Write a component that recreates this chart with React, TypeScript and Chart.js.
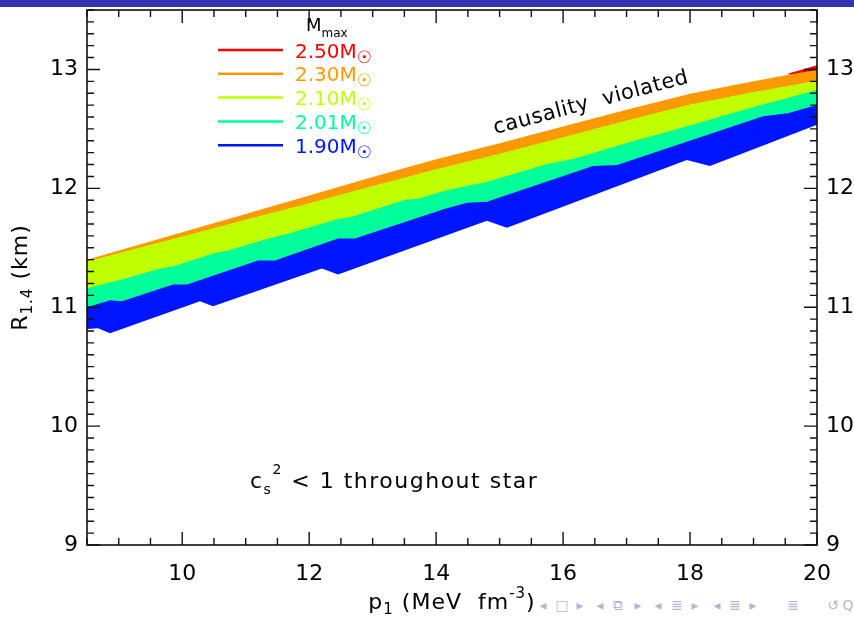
import { useEffect, useRef } from 'react';
import { Chart, registerables } from 'chart.js';
Chart.register(...registerables);

const FONT = '"DejaVu Sans", sans-serif';

// axis ranges and tick labels
const xRange = [8.5, 20];
const yRange = [9, 13.5];
const xTickLabels = [10, 12, 14, 16, 18, 20];
const yTickLabels = [9, 10, 11, 12, 13];

// causality limit (upper edge of all bands)
const causalX = [8.5, 10, 11, 12, 13, 14, 15, 16, 17, 18, 19, 20];
const causalY = [11.40, 11.63, 11.785, 11.94, 12.095, 12.245, 12.38, 12.52, 12.66, 12.795, 12.90, 13.0];

// lower edge of Mmax >= 2.30 (orange) region
const orangeLowX = [8.5, 10, 11, 12, 13, 14, 15, 16, 17, 18, 19, 20];
const orangeLowY = [11.385, 11.595, 11.735, 11.875, 12.02, 12.16, 12.29, 12.43, 12.57, 12.705, 12.81, 12.905];

// lower edge of Mmax >= 2.10 (yellow) region
const yellowLowX = [8.5, 8.862, 9.051, 9.65, 9.855, 10.485, 10.72, 11.414, 11.666, 12.407, 12.675, 13.51, 13.714, 14.14, 14.423, 14.8, 15.746, 16.156, 17.164, 17.526, 19.1, 19.417, 20];
const yellowLowY = [11.159, 11.209, 11.234, 11.326, 11.343, 11.452, 11.477, 11.586, 11.619, 11.736, 11.761, 11.904, 11.912, 11.979, 12.013, 12.054, 12.205, 12.247, 12.406, 12.456, 12.699, 12.741, 12.83];

// lower edge of Mmax >= 2.01 (green) region
const greenLowX = [8.5, 8.862, 9.051, 9.855, 10.075, 11.194, 11.46, 12.454, 12.72, 14.14, 14.486, 14.8, 16.47, 16.85, 19.15, 19.54, 20];
const greenLowY = [11.0, 11.059, 11.05, 11.192, 11.192, 11.393, 11.393, 11.577, 11.577, 11.828, 11.879, 11.887, 12.188, 12.197, 12.607, 12.632, 12.70];

// lower edge of Mmax >= 1.90 (blue) region
const blueLowX = [8.5, 8.673, 8.862, 10.28, 10.485, 12.2, 12.454, 14.8, 15.116, 17.95, 18.314, 20];
const blueLowY = [10.816, 10.824, 10.782, 11.05, 11.008, 11.326, 11.276, 11.728, 11.669, 12.238, 12.188, 12.535];

// Mmax >= 2.50 (red) sliver
const redX = [19.55, 20];
const redLowY = [12.955, 12.995];
const redHighY = [12.965, 13.035];

const legendLabels = ['2.50', '2.30', '2.10', '2.01', '1.90'];
const legendColors = ['#ff0000', '#ff9900', '#bfff00', '#00ff99', '#0015ff'];

const pts = (xs: number[], ys: number[]) => xs.map((x, i) => ({ x, y: ys[i] }));

type Part = { t: string; size: number; dy?: number };

function richWidth(ctx: CanvasRenderingContext2D, parts: Part[]) {
  let w = 0;
  for (const p of parts) {
    ctx.font = `${p.size}px ${FONT}`;
    w += ctx.measureText(p.t).width;
  }
  return w;
}
function drawRich(ctx: CanvasRenderingContext2D, parts: Part[], x: number, y: number) {
  let cx = x;
  for (const p of parts) {
    ctx.font = `${p.size}px ${FONT}`;
    ctx.fillText(p.t, cx, y + (p.dy || 0));
    cx += ctx.measureText(p.t).width;
  }
}

const decor = {
  id: 'decor',
  afterDraw(chart: any) {
    const ctx: CanvasRenderingContext2D = chart.ctx;
    const { left, right, top, bottom } = chart.chartArea;
    const xs = chart.scales.x;
    const ys = chart.scales.y;
    ctx.save();
    // top beamer bar
    ctx.fillStyle = '#3434b0';
    ctx.fillRect(0, 0, chart.width, 7);

    // frame
    ctx.strokeStyle = '#111';
    ctx.lineWidth = 1.6;
    ctx.strokeRect(left, top, right - left, bottom - top);

    // inward ticks
    ctx.lineWidth = 1.4;
    ctx.beginPath();
    for (let i = 0; i <= 23; i++) {
      const v = 8.5 + i * 0.5;
      const px = xs.getPixelForValue(v);
      const len = Math.abs(v % 2) < 1e-6 ? 13 : 7;
      ctx.moveTo(px, bottom);
      ctx.lineTo(px, bottom - len);
      ctx.moveTo(px, top);
      ctx.lineTo(px, top + len);
    }
    for (let i = 0; i <= 45; i++) {
      const v = 9 + i * 0.1;
      const py = ys.getPixelForValue(v);
      const len = i % 10 === 0 ? 13 : 7;
      ctx.moveTo(left, py);
      ctx.lineTo(left + len, py);
      ctx.moveTo(right, py);
      ctx.lineTo(right - len, py);
    }
    ctx.stroke();

    // legend
    ctx.fillStyle = '#000';
    ctx.textAlign = 'left';
    ctx.textBaseline = 'alphabetic';
    drawRich(ctx, [{ t: 'M', size: 18 }, { t: 'max', size: 12, dy: 6 }], 306, 31);
    legendLabels.forEach((lab, i) => {
      const ly = 50 + i * 23.8;
      ctx.strokeStyle = legendColors[i];
      ctx.lineWidth = 2.5;
      ctx.beginPath();
      ctx.moveTo(218, ly);
      ctx.lineTo(283, ly);
      ctx.stroke();
      ctx.fillStyle = legendColors[i];
      drawRich(ctx, [{ t: lab + 'M', size: 20 }, { t: '☉', size: 17, dy: 5 }], 295, ly + 7.5);
    });

    // causality violated
    ctx.fillStyle = '#000';
    ctx.save();
    ctx.translate(591, 103);
    ctx.rotate((-14.8 * Math.PI) / 180);
    ctx.font = `21px ${FONT}`;
    (ctx as any).letterSpacing = '0.5px';
    ctx.textAlign = 'center';
    ctx.textBaseline = 'middle';
    ctx.fillText('causality  violated', 0, 0);
    ctx.restore();

    // cs^2 < 1 throughout star
    ctx.textAlign = 'left';
    ctx.textBaseline = 'alphabetic';
    (ctx as any).letterSpacing = '1.5px';
    drawRich(
      ctx,
      [
        { t: 'c', size: 22 },
        { t: 's', size: 14, dy: 6 },
        { t: '2', size: 14, dy: -14 },
        { t: ' < 1 throughout star', size: 22 },
      ],
      250,
      488
    );

    // x title
    (ctx as any).letterSpacing = '1px';
    const xParts: Part[] = [
      { t: 'p', size: 22 },
      { t: '1', size: 15, dy: 5 },
      { t: ' (MeV  fm', size: 22 },
      { t: '-3', size: 15, dy: -11 },
      { t: ')', size: 22 },
    ];
    const xw = richWidth(ctx, xParts);
    drawRich(ctx, xParts, (left + right) / 2 - xw / 2, 609);

    // y title
    const yParts: Part[] = [
      { t: 'R', size: 22 },
      { t: '1.4', size: 15, dy: 5 },
      { t: ' (km)', size: 22 },
    ];
    ctx.save();
    ctx.translate(27, (top + bottom) / 2);
    ctx.rotate(-Math.PI / 2);
    const yw = richWidth(ctx, yParts);
    drawRich(ctx, yParts, -yw / 2, 0);
    ctx.restore();
    (ctx as any).letterSpacing = '0px';

    // beamer navigation symbols
    ctx.fillStyle = '#b4b4d4';
    ctx.font = `14px ${FONT}`;
    ctx.textAlign = 'center';
    ctx.textBaseline = 'middle';
    const nav = ['◂', '□', '▸', '◂', '⧉', '▸', '◂', '≣', '▸', '◂', '≣', '▸', '≣', '↺', 'Q'];
    const navX = [543, 562, 580, 600, 618, 638, 658, 677, 695, 717, 735, 753, 793, 833, 848];
    nav.forEach((s, i) => ctx.fillText(s, navX[i], 606));
    ctx.restore();
  },
};

export default function App() {
  const ref = useRef<HTMLCanvasElement>(null);
  useEffect(() => {
    if (!ref.current) return;
    const common = { pointRadius: 0, borderWidth: 0, borderColor: 'rgba(0,0,0,0)', tension: 0 };
    const yFit = (w: number) => (s: any) => {
      s.width = w;
      s.paddingTop = 0;
      s.paddingBottom = 0;
    };
    const chart = new Chart(ref.current, {
      type: 'line',
      data: {
        datasets: [
          { ...common, data: pts(blueLowX, blueLowY), fill: 'end', backgroundColor: legendColors[4], order: 6 },
          { ...common, data: pts(greenLowX, greenLowY), fill: 'end', backgroundColor: legendColors[3], order: 5 },
          { ...common, data: pts(yellowLowX, yellowLowY), fill: 'end', backgroundColor: legendColors[2], order: 4 },
          { ...common, data: pts(orangeLowX, orangeLowY), fill: 'end', backgroundColor: legendColors[1], order: 3 },
          { ...common, data: pts(causalX, causalY), fill: 'end', backgroundColor: '#ffffff', order: 2 },
          { ...common, data: pts(redX, redLowY), fill: false, order: 1 },
          { ...common, data: pts(redX, redHighY), fill: '-1', backgroundColor: legendColors[0], order: 0 },
        ] as any,
      },
      options: {
        animation: false,
        responsive: false,
        layout: { padding: { top: 10, left: 0, right: 0, bottom: 0 } },
        plugins: { legend: { display: false }, tooltip: { enabled: false } },
        scales: {
          x: {
            type: 'linear',
            position: 'bottom',
            min: xRange[0],
            max: xRange[1],
            grid: { display: false, drawTicks: false },
            border: { display: false },
            ticks: { font: { family: FONT, size: 22 }, color: '#000', padding: 16 },
            afterBuildTicks: (s: any) => { s.ticks = xTickLabels.map((v) => ({ value: v })); },
            afterFit: (s: any) => { s.height = 72; s.paddingLeft = 0; s.paddingRight = 0; },
          },
          y: {
            type: 'linear',
            position: 'left',
            min: yRange[0],
            max: yRange[1],
            grid: { display: false, drawTicks: false },
            border: { display: false },
            ticks: { font: { family: FONT, size: 22 }, color: '#000', padding: 9 },
            afterBuildTicks: (s: any) => { s.ticks = yTickLabels.map((v) => ({ value: v })); },
            afterFit: yFit(87),
          },
          y2: {
            type: 'linear',
            position: 'right',
            min: yRange[0],
            max: yRange[1],
            grid: { display: false, drawTicks: false },
            border: { display: false },
            ticks: { font: { family: FONT, size: 22 }, color: '#000', padding: 9 },
            afterBuildTicks: (s: any) => { s.ticks = yTickLabels.map((v) => ({ value: v })); },
            afterFit: yFit(37),
          },
        },
      } as any,
      plugins: [decor],
    });
    return () => chart.destroy();
  }, []);
  return (
    <div style={{ position: 'absolute', left: 0, top: 0, width: 854, height: 617, background: '#fff' }}>
      <canvas ref={ref} width={854} height={617} />
    </div>
  );
}
